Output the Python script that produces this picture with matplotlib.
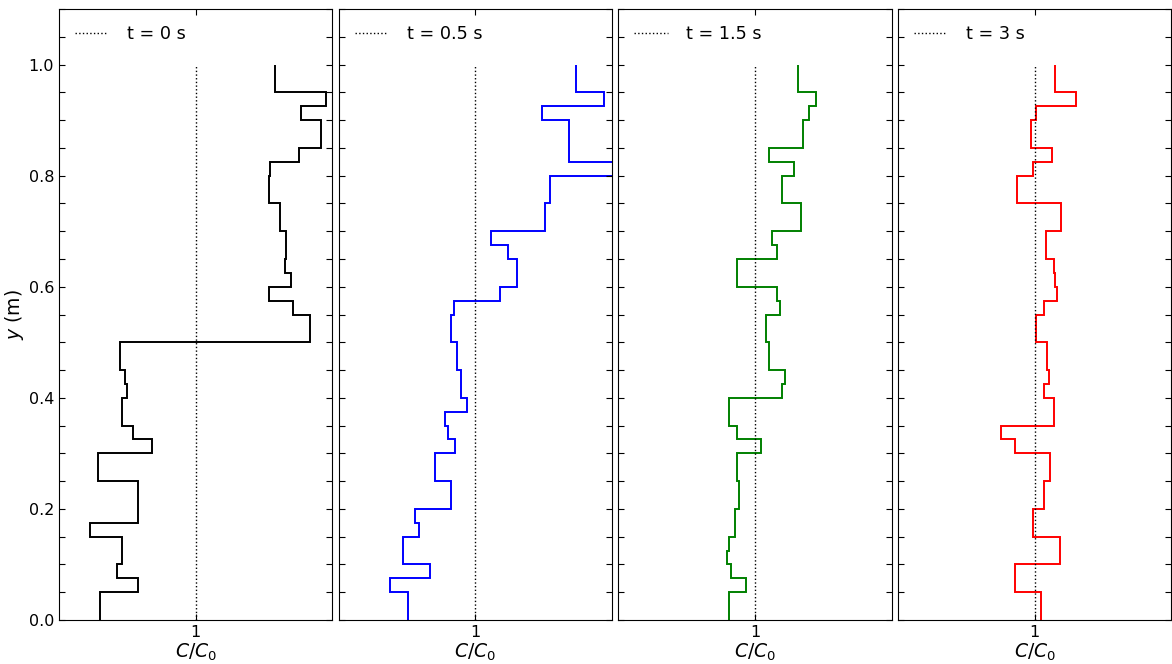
import numpy as np
import matplotlib
matplotlib.use("Agg")
import matplotlib.pyplot as plt
from matplotlib.ticker import MultipleLocator, FixedLocator

# Layer edges (m), 40 layers of 0.025 m
y_edges = np.round(np.arange(41) * 0.025, 3)

# C/C0 per layer, bottom (y=0) to top (y=1)
c_t0 = [0.297, 0.297, 0.578, 0.426, 0.460, 0.460, 0.226, 0.578, 0.578, 0.578,
        0.287, 0.287, 0.683, 0.543, 0.458, 0.458, 0.494, 0.482, 0.446, 0.446,
        1.838, 1.838, 1.711, 1.535, 1.698, 1.652, 1.664, 1.664, 1.615, 1.615,
        1.535, 1.535, 1.545, 1.757, 1.918, 1.918, 1.769, 1.955, 1.581, 1.581]
c_t05 = [0.504, 0.504, 0.377, 0.668, 0.473, 0.473, 0.590, 0.556, 0.824, 0.824,
         0.704, 0.704, 0.853, 0.797, 0.775, 0.939, 0.895, 0.895, 0.868, 0.868,
         0.824, 0.824, 0.846, 1.183, 1.303, 1.303, 1.242, 1.115, 1.513, 1.513,
         1.547, 1.547, 2.300, 1.684, 1.684, 1.684, 1.488, 1.940, 1.733, 1.733]
c_t15 = [0.809, 0.809, 0.937, 0.821, 0.797, 0.809, 0.855, 0.855, 0.879, 0.879,
         0.867, 0.867, 1.046, 0.867, 0.809, 0.809, 1.195, 1.220, 1.105, 1.105,
         1.081, 1.081, 1.183, 1.164, 0.871, 0.871, 1.164, 1.127, 1.337, 1.337,
         1.195, 1.195, 1.288, 1.105, 1.349, 1.349, 1.396, 1.444, 1.313, 1.313]
c_t3 = [1.044, 1.044, 0.858, 0.858, 1.183, 1.183, 0.988, 0.988, 1.068, 1.068,
        1.115, 1.115, 0.858, 0.753, 1.139, 1.139, 1.068, 1.105, 1.093, 1.093,
        1.010, 1.010, 1.068, 1.166, 1.151, 1.139, 1.081, 1.081, 1.195, 1.195,
        0.871, 0.871, 0.988, 1.127, 0.976, 0.976, 1.010, 1.305, 1.151, 1.151]

profiles = [c_t0, c_t05, c_t15, c_t3]
labels = ["t = 0 s", "t = 0.5 s", "t = 1.5 s", "t = 3 s"]
colors = ["black", "blue", "green", "red"]

W, H = 1172, 664
fig = plt.figure(figsize=(W / 100, H / 100), dpi=100)

left0 = 59.0
pw = 273.3
step = 279.7
bottom = (H - 620.0) / H
height = (620.0 - 9.0) / H

axes = []
for i, (vals, lab, col) in enumerate(zip(profiles, labels, colors)):
    ax = fig.add_axes([(left0 + i * step) / W, bottom, pw / W, height])
    axes.append(ax)
    ax.plot([1, 1], [0, 1], color="black", linestyle=":", linewidth=1.0, label=lab)
    ax.stairs(vals, y_edges, orientation="horizontal", baseline=None,
              color=col, linewidth=1.4)
    ax.set_xlim(0, 2)
    ax.set_ylim(0, 1.1)
    ax.xaxis.set_major_locator(FixedLocator([1]))
    ax.set_xticklabels(["1"])
    ax.yaxis.set_major_locator(MultipleLocator(0.2))
    ax.yaxis.set_minor_locator(MultipleLocator(0.05))
    ax.tick_params(which="both", direction="in", top=True, right=True,
                   length=4, width=0.8, labelsize=11.5)
    ax.set_xlabel("$C/C_0$", fontsize=13.5, labelpad=1)
    if i == 0:
        ax.set_ylabel("$y$ (m)", fontsize=13.5, labelpad=2)
    else:
        ax.tick_params(labelleft=False)
    ax.legend(loc="upper left", frameon=False, fontsize=12.7,
              handlelength=1.9, handletextpad=1.05)

fig.savefig("out.png", dpi=100)
